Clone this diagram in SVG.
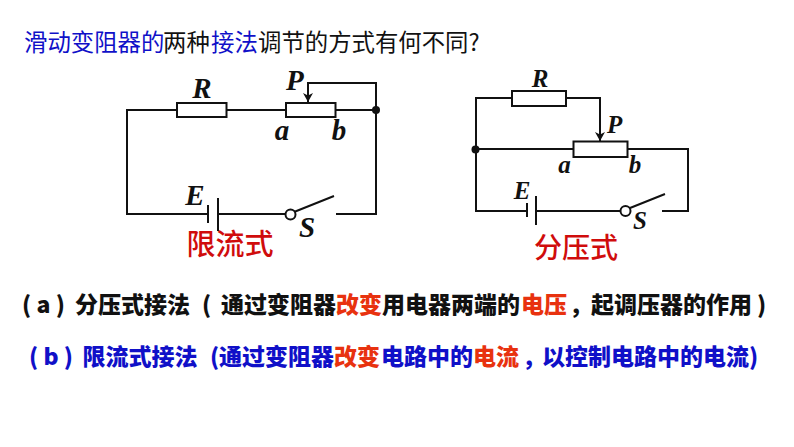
<svg xmlns="http://www.w3.org/2000/svg" width="794" height="447" viewBox="0 0 794 447">
<style>
.w{fill:none;stroke:#111;stroke-width:2}
.r{fill:#fff;stroke:#111;stroke-width:2}
.m{font-family:"Liberation Serif",serif;font-weight:bold;font-style:italic;fill:#111}
.s{font-size:29px}.t{font-size:25px}
.c{font-family:"Noto Sans CJK SC",sans-serif;font-weight:500;fill:#d00c0c}
.h{font-family:"Noto Sans CJK SC",sans-serif;font-size:23.400px}
.b{font-family:"Noto Sans CJK SC",sans-serif;font-weight:900;font-size:23px}
.k{fill:#111}.u{fill:#1010c8}.o{fill:#e8320f}
</style>
<defs>
<marker id="a1" markerUnits="userSpaceOnUse" markerWidth="12" markerHeight="12" refX="9" refY="5" orient="auto"><path d="M0 0L9 5L0 10L2.5 5Z" fill="#111"/></marker>
</defs>
<rect width="794" height="447" fill="#fff"/>
<g id="title">
<text class="h u" x="24" y="50.500">滑动变阻器的</text>
<text class="h k" x="163" y="50.500">两种</text>
<text class="h u" x="211" y="50.500">接法</text>
<text class="h k" x="258" y="50.500">调节的方式有何不同?</text>
</g>
<g id="connectors">
<path class="w" d="M177 110H127V214H208M218 214H285M336 214H376V110H335M286 110H226"/>
<path class="w" d="M376 110V83H308V102" marker-end="url(#a1)"/>
<path class="w" d="M208 205V223M218 198V231M294 212L334 196"/>
<path class="w" d="M512 98H476V211H527M536 211H620M662 211H688V149H627M573 149H476"/>
<path class="w" d="M566 98H600V141" marker-end="url(#a1)"/>
<path class="w" d="M527 203V217M536 196V225M630 208L665 194"/>
</g>
<g id="circuit-a">
<rect id="R1" class="r" x="177" y="103" width="49.500" height="14"/>
<rect id="Rab1" class="r" x="286" y="103" width="49.500" height="14"/>
<circle id="node1" class="k" cx="376" cy="110" r="4"/>
<circle id="switch1" class="r" cx="290.500" cy="214.500" r="5"/>
<text class="m s" x="202" y="98" text-anchor="middle">R</text>
<text class="m s" x="286" y="90">P</text>
<text class="m s" x="282" y="140" text-anchor="middle">a</text>
<text class="m s" x="339" y="140" text-anchor="middle">b</text>
<text class="m s" x="195" y="205" text-anchor="middle">E</text>
<text class="m s" x="307" y="237" text-anchor="middle">S</text>
<text class="c" x="186.500" y="255" font-size="29">限流式</text>
</g>
<g id="circuit-b">
<rect id="R2" class="r" x="512" y="91" width="54" height="15"/>
<rect id="Rab2" class="r" x="573.500" y="141.500" width="54" height="15.500"/>
<circle id="node2" class="k" cx="475.500" cy="149.500" r="4"/>
<circle id="switch2" class="r" cx="625.500" cy="211" r="5"/>
<text class="m t" x="540" y="87" text-anchor="middle">R</text>
<text class="m t" x="607" y="133">P</text>
<text class="m t" x="564.500" y="173" text-anchor="middle">a</text>
<text class="m t" x="635" y="173" text-anchor="middle">b</text>
<text class="m t" x="522" y="199" text-anchor="middle">E</text>
<text class="m t" x="640" y="229" text-anchor="middle">S</text>
<text class="c" x="534" y="258" font-size="28">分压式</text>
</g>
<g id="line-a">
<text class="b k" x="22" y="312.500">( a )</text>
<text class="b k" x="75" y="312.500">分压式接法</text>
<text class="b k" x="202" y="312.500">(</text>
<text class="b k" x="221" y="312.500">通过变阻器</text>
<text class="b o" x="336" y="312.500">改变</text>
<text class="b k" x="382" y="312.500">用电器两端的</text>
<text class="b o" x="521" y="312.500">电压</text>
<text class="b k" x="572" y="312.500">,</text>
<text class="b k" x="591" y="312.500">起调压器的作用</text>
<text class="b k" x="757" y="312.500">)</text>
</g>
<g id="line-b">
<text class="b u" x="29" y="364.500">( b )</text>
<text class="b u" x="82.500" y="364.500">限流式接法</text>
<text class="b u" x="210" y="364.500">(</text>
<text class="b u" x="219" y="364.500">通过变阻器</text>
<text class="b o" x="334" y="364.500">改变</text>
<text class="b u" x="381" y="364.500">电路中的</text>
<text class="b o" x="473" y="364.500">电流</text>
<text class="b u" x="525" y="364.500">,</text>
<text class="b u" x="542" y="364.500">以控制电路中的电流</text>
<text class="b u" x="749" y="364.500">)</text>
</g>
</svg>
